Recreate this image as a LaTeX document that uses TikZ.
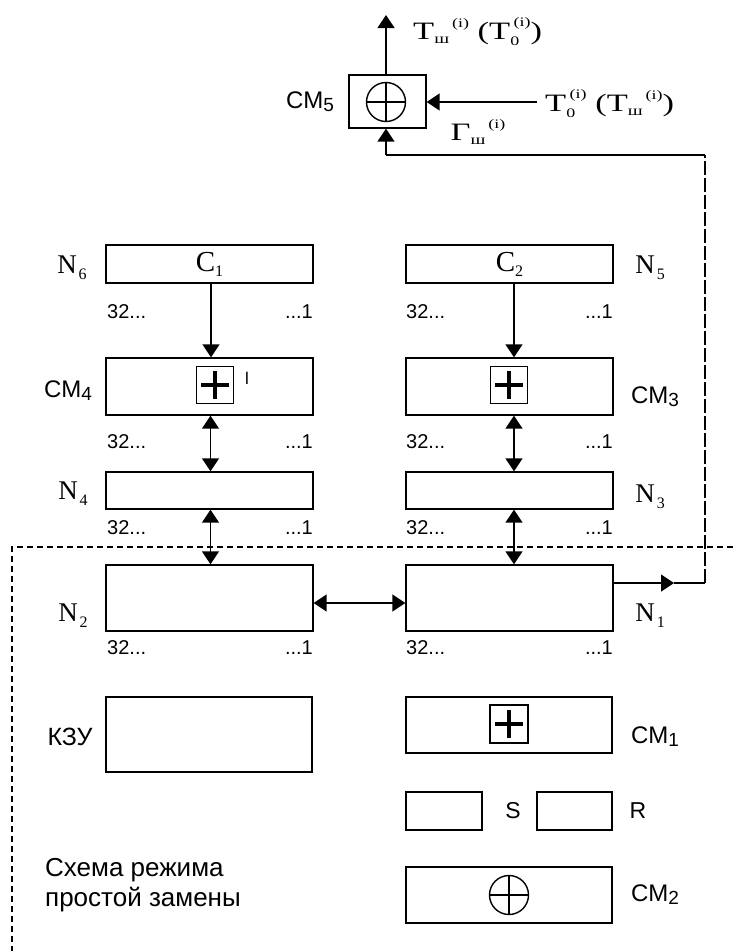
\documentclass[tikz,border=0pt]{standalone}
\usepackage{fontspec}
\setmainfont{Liberation Sans}
\newfontfamily\sr{Liberation Serif}
\usetikzlibrary{arrows.meta}
\newcommand{\fs}[1]{\fontsize{#1}{#1}\selectfont}
\newcommand{\Nl}[1]{{\sr\fs{27}N\hspace{2pt}\raisebox{-6pt}{\fs{16}#1}}}
\newcommand{\CMl}[1]{{\fs{24}CM\raisebox{-3pt}{\fs{19}#1}}}
\newcommand{\Tsh}{T\raisebox{-4pt}{\fs{14}ш}\raisebox{12pt}{\fs{13}\,(i)}}
\newcommand{\Tz}{T\raisebox{-6pt}{\fs{13}0}\hspace{-4pt}\raisebox{13pt}{\fs{13}(i)}}
\newcommand{\hs}[1]{\scalebox{1.38}[1]{#1}}
\tikzset{
  reg/.style={draw, line width=1.3pt, inner sep=0pt, minimum height=38pt, minimum width=207pt},
  sq/.style={draw, line width=1.3pt, inner sep=0pt, minimum width=37pt, minimum height=37pt},
  ln/.style={line width=1.4pt},
  arr/.style={line width=1.4pt, -{Triangle[length=13pt,width=17pt]}},
  darr/.style={line width=1.4pt, {Triangle[length=13pt,width=17pt]}-{Triangle[length=13pt,width=17pt]}},
  bits/.style={font=\fs{20}, inner sep=0pt},
  lab/.style={inner sep=0pt},
  dsh/.style={line width=1.2pt, dash pattern=on 6pt off 4pt},
  brk/.style={line width=1.4pt, dash pattern=on 14pt off 3pt}
}
\begin{document}
\begin{tikzpicture}[x=1pt,y=-1pt]
\useasboundingbox (0,0) rectangle (733,951);
\fill[white] (0,0) rectangle (733,951);

% CM5
\node[draw, line width=1.3pt, minimum width=77pt, minimum height=53pt, inner sep=0pt] (cm5) at (387.5,101.5) {};
\draw[line width=1.4pt] (386,102) circle (19.5pt);
\draw[line width=1.2pt] (366.5,102) -- (405.5,102) (386,82.5) -- (386,121.5);
\node[lab] (cm5l) at (310,102) {\CMl{5}};
\coordinate (outtop) at (386,15);
\draw[arr] (cm5.north -| 386,0) -- (outtop);
\node[lab, anchor=west, font=\sr\fs{25}] (outl) at (413,32) {\hs{\Tsh\ (\Tz)}};
\node[lab, anchor=west, font=\sr\fs{25}] (inl) at (545,104) {\hs{\Tz\ (\Tsh)}};
\coordinate (instart) at (537,102);
\draw[arr] (instart) -- (cm5.east |- instart);
\node[lab, font=\sr\fs{25}] (gl) at (478,132) {\hs{Г\raisebox{-4pt}{\fs{14}ш}\raisebox{12pt}{\fs{13}\,(i)}}};

% C1, C2
\node[reg] (c1) at (209.5,264) {\sr\fs{29}C\raisebox{-5pt}{\fs{16}1}};
\node[reg] (c2) at (509.5,264) {\sr\fs{29}C\raisebox{-5pt}{\fs{16}2}};
\node[lab] (n6l) at (72,268) {\Nl{6}};
\node[lab] (n5l) at (650,268) {\Nl{5}};
\node[bits, anchor=west] (b1) at (107,312) {32...};
\node[bits, anchor=east] (b2) at (313,312) {...1};
\node[bits, anchor=west] (b3) at (406,312) {32...};
\node[bits, anchor=east] (b4) at (613,312) {...1};

% CM4, CM3
\node[reg, minimum height=57pt] (cm4) at (209.5,386.5) {};
\node[reg, minimum height=57pt] (cm3) at (509.5,386.5) {};
\node[sq] (p4) at (215,385) {};
\draw[line width=3.6pt] (201,385) -- (229,385) (215,371) -- (215,399);
\node[sq] (p3) at (509,385) {};
\draw[line width=3.6pt] (495,385) -- (523,385) (509,371) -- (509,399);
\node[lab, font=\fs{17}] (tick) at (247,378) {l};
\node[lab] (cm4l) at (68,391) {\CMl{4}};
\node[lab] (cm3l) at (655,397) {\CMl{3}};
\draw[arr] ([xshift=1.5pt]c1.south) -- ([xshift=1.5pt]cm4.north);
\draw[arr] ([xshift=4.5pt]c2.south) -- ([xshift=4.5pt]cm3.north);
\node[bits, anchor=west] (b5) at (107,442) {32...};
\node[bits, anchor=east] (b6) at (313,442) {...1};
\node[bits, anchor=west] (b7) at (406,442) {32...};
\node[bits, anchor=east] (b8) at (613,442) {...1};

% N4, N3
\node[reg, minimum height=37pt] (n4) at (209.5,490.5) {};
\node[reg, minimum height=37pt] (n3) at (509.5,490.5) {};
\node[lab] (n4l) at (73,494) {\Nl{4}};
\node[lab] (n3l) at (650,497) {\Nl{3}};
\draw[darr] ([xshift=1pt]cm4.south) -- ([xshift=1pt]n4.north);
\draw[darr] ([xshift=4.5pt]cm3.south) -- ([xshift=4.5pt]n3.north);
\node[bits, anchor=west] (b9) at (107,528) {32...};
\node[bits, anchor=east] (b10) at (313,528) {...1};
\node[bits, anchor=west] (b11) at (406,528) {32...};
\node[bits, anchor=east] (b12) at (613,528) {...1};

% dashed frame
\coordinate (dl) at (12,547);
\coordinate (dr) at (733,547);
\coordinate (db) at (12,951);
\draw[dsh] (dr) -- (dl) -- (db);

% N2, N1
\node[reg, minimum height=66pt] (n2) at (209.5,598) {};
\node[reg, minimum height=66pt] (n1) at (509.5,598) {};
\node[lab] (n2l) at (73,616) {\Nl{2}};
\node[lab] (n1l) at (650,616) {\Nl{1}};
\draw[darr] ([xshift=1pt]n4.south) -- ([xshift=1pt]n2.north);
\draw[darr] ([xshift=4.5pt]n3.south) -- ([xshift=4.5pt]n1.north);
\draw[darr] ([yshift=-5pt]n2.east) -- ([yshift=-5pt]n1.west);
\node[bits, anchor=west] (b13) at (107,648) {32...};
\node[bits, anchor=east] (b14) at (313,648) {...1};
\node[bits, anchor=west] (b15) at (406,648) {32...};
\node[bits, anchor=east] (b16) at (613,648) {...1};

% feedback N1 -> CM5
\coordinate (fa) at (613,583);
\coordinate (fm) at (674,583);
\coordinate (fb) at (705,583);
\coordinate (fc) at (705,155);
\coordinate (fd) at (386,155);
\draw[arr] (fa) -- (fm);
\draw[ln] (fm) -- (fb);
\draw[brk] (fb) -- (fc);
\draw[ln] (fc) -- (fd);
\draw[arr] (fd) -- (cm5.south -| fd);

% KZU, CM1
\node[reg, minimum width=206pt, minimum height=75pt] (kzu) at (209,734.5) {};
\node[lab, font=\fs{25}] (kzul) at (70,737) {КЗУ};
\node[reg, minimum width=206pt, minimum height=56pt] (cm1) at (509,725) {};
\node[sq, minimum height=38pt, minimum width=38pt] (p1) at (509,724) {};
\draw[line width=3.6pt] (495,724) -- (523,724) (509,710) -- (509,738);
\node[lab] (cm1l) at (655,737) {\CMl{1}};

% S, R
\node[reg, minimum width=76pt] (sb) at (444,811) {};
\node[lab, font=\fs{23}] (sl) at (513,811) {S};
\node[reg, minimum width=75pt] (rb) at (574.5,811) {};
\node[lab, font=\fs{23}] (rl) at (638,811) {R};

% CM2
\node[reg, minimum width=206pt, minimum height=56pt] (cm2) at (509,895) {};
\draw[line width=1.4pt] (509,895) circle (19.5pt);
\draw[line width=1.2pt] (489.5,895) -- (528.5,895) (509,875.5) -- (509,914.5);
\node[lab] (cm2l) at (655,895) {\CMl{2}};

% caption
\node[lab, anchor=west, align=left, font=\fontsize{26}{30}\selectfont] (cap) at (45,885) {Схема режима\\простой замены};
\end{tikzpicture}
\end{document}
